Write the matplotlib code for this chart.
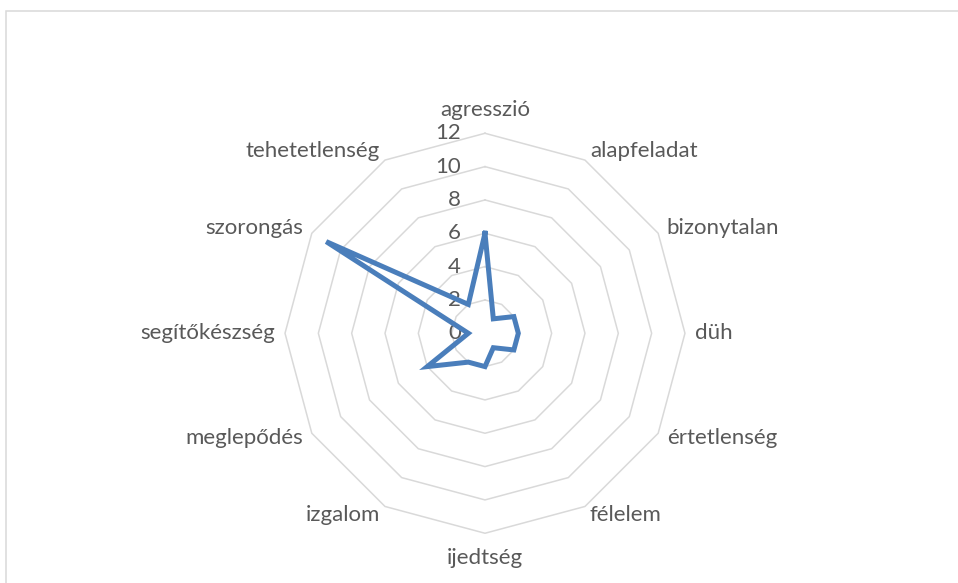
import numpy as np
import matplotlib
matplotlib.use("Agg")
from matplotlib import pyplot as plt
from matplotlib.patches import Rectangle

categories = ["agresszió", "alapfeladat", "bizonytalan", "düh", "értetlenség", "félelem",
              "ijedtség", "izgalom", "meglepődés", "segítőkészség", "szorongás", "tehetetlenség"]
values = [6, 1, 2, 2, 2, 1, 2, 2, 4, 1, 11, 2]
rings = [2, 4, 6, 8, 10, 12]
tick_values = [0, 2, 4, 6, 8, 10, 12]

plt.rcParams["font.family"] = ["Lato", "DejaVu Sans"]
text_color = "#595959"
grid_color = "#d9d9d9"
line_color = "#4a7ebb"

fig = plt.figure(figsize=(9.58, 5.83), dpi=100)
fig.patches.append(Rectangle((6 / 958, -0.05), 1.1, 1 - 11 / 583 + 0.05, transform=fig.transFigure,
                             fill=False, edgecolor=grid_color, linewidth=1.1))

ax = fig.add_axes([0.2975, 0.0853, 0.4175, 0.6861], projection="polar")
ax.set_theta_zero_location("N")
ax.set_theta_direction(-1)
ax.set_ylim(0, 12)
ax.grid(False)
ax.spines["polar"].set_visible(False)
ax.set_xticks([])
ax.set_yticks([])
ax.patch.set_alpha(0)

n = len(categories)
theta = np.linspace(0, 2 * np.pi, n, endpoint=False)
theta_c = np.append(theta, theta[0])

# polygon gridlines (no spokes)
for r in rings:
    ax.plot(theta_c, [r] * (n + 1), color=grid_color, linewidth=1.1, zorder=1, clip_on=False)

for v in tick_values:
    ax.annotate(str(v), xy=(0, v), xytext=(-24, 0), textcoords="offset pixels",
                ha="right", va="center", fontsize=16, color=text_color, zorder=2)

vals = values + values[:1]
ax.plot(theta_c, vals, color=line_color, linewidth=3.6, solid_joinstyle="miter", zorder=3, clip_on=False)

g = 10
for t, name in zip(theta, categories):
    s, c = np.sin(t), np.cos(t)
    if abs(s) < 0.1:
        ha = "center"
        va = "bottom" if c > 0 else "top"
        off = (0, 13) if c > 0 else (0, -15)
    else:
        ha = "left" if s > 0 else "right"
        va = "center"
        off = (g * s, g * c)
    ax.annotate(name, xy=(t, 12), xytext=off, textcoords="offset pixels",
                ha=ha, va=va, fontsize=16, color=text_color)

fig.savefig("out.png", dpi=100)
